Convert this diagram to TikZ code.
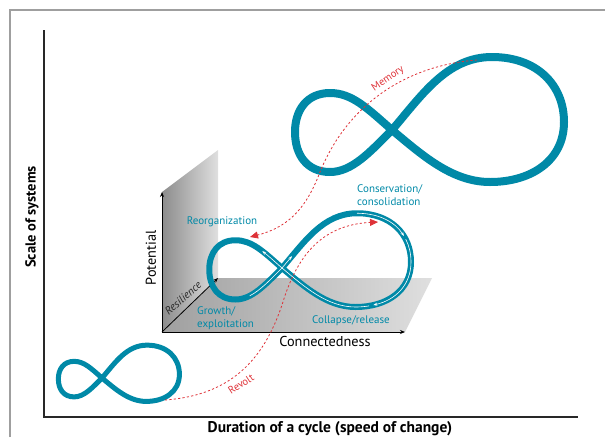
\documentclass[tikz,border=0pt]{standalone}
\usepackage{fontspec}
\setmainfont{PT Sans}
\usetikzlibrary{arrows.meta,decorations.markings}
\definecolor{tealc}{RGB}{0,137,167}
\definecolor{redm}{RGB}{222,50,56}
\definecolor{axisc}{RGB}{40,40,40}
\def\eightpath{(0,0) .. controls (30,-35) and (55,-73) .. (100,-73) .. controls (145,-73) and (172,-45) .. (172,-8) .. controls (172,30) and (140,52) .. (98,52) .. controls (60,52) and (30,25) .. (0,0) .. controls (-25,-22) and (-40,-37) .. (-62,-37) .. controls (-85,-37) and (-97,-20) .. (-97,2) .. controls (-97,25) and (-85,42) .. (-62,42) .. controls (-40,42) and (-22,22) .. cycle}
\begin{document}
\begin{tikzpicture}[x=1pt,y=-1pt,
  frame/.style={draw=gray!75, line width=1.6pt},
  mainaxis/.style={draw=axisc, line width=1.2pt},
  smallaxis/.style={draw=black, line width=0.8pt, -{Stealth[length=5pt,width=4pt]}},
  eightline/.style={draw=tealc, line join=round},
  whitearrow/.style={draw=white, line width=0.6pt, -{Stealth[length=4pt,width=3pt]}},
  redpath/.style={draw=redm, line width=0.8pt, dash pattern=on 2.2pt off 2.2pt, -{Triangle[length=8pt,width=7pt]}},
  tealtext/.style={text=tealc, font=\fontsize{11}{12.5}\selectfont, inner sep=0pt, align=left},
  redtext/.style={text=redm, font=\fontsize{10.5}{12}\selectfont, inner sep=0pt},
  axtitle/.style={text=black, font=\bfseries\fontsize{15.5}{17}\selectfont, inner sep=0pt},
  axlabel/.style={text=black, font=\fontsize{14.3}{16}\selectfont, inner sep=0pt}]
\useasboundingbox (0,0) rectangle (605,437);
% outer frame
\coordinate (f1) at (10,437);
\coordinate (f2) at (10,10);
\coordinate (f3) at (605,10);
\draw[frame] (f1) -- (f2) -- (f3);
% main axes
\coordinate (o) at (44,417);
\coordinate (ytop) at (44,30);
\coordinate (xend) at (578,417);
\draw[mainaxis] (ytop) -- (o) -- (xend);
\node[axtitle, rotate=90, font=\bfseries\fontsize{14.5}{16}\selectfont] (scale) at (32,217) {Scale of systems};
\node[axtitle] (dur) at (330,429) {Duration of a cycle (speed of change)};
% 3D planes
\coordinate (O) at (162,332);
\coordinate (P) at (162,192);
\coordinate (W1) at (218,150);
\coordinate (R) at (218,278);
\coordinate (F1) at (432,278);
\coordinate (C) at (405,332);
\shade[left color=gray!90, right color=gray!25] (P) -- (W1) -- (R) -- (O) -- cycle;
\shade[left color=gray!75, right color=gray!25] (O) -- (R) -- (F1) -- (C) -- cycle;
\draw[smallaxis] (O) -- (P);
\draw[smallaxis] (O) -- (C);
\draw[smallaxis] (O) -- (R);
\node[axlabel, rotate=90] (pot) at (151,258) {Potential};
\node[axlabel] (con) at (325,341) {Connectedness};
\node[text=axisc, font=\itshape\fontsize{11}{12}\selectfont, inner sep=0pt, rotate=41] (res) at (183,298) {Resilience};
% figure eights
\begin{scope}[shift={(392,130)}]
  \draw[eightline, line width=8pt] \eightpath;
\end{scope}
\begin{scope}[shift={(282,268)}, scale=0.75]
  \draw[eightline, line width=6pt] \eightpath;
  \draw[whitearrow] (-43.1,37.1) .. controls (-28.8,29.8) and (-15.4,15.4) .. (0,0) .. controls (4.5,-5.25) and (8.9,-10.6) .. (13.3,-15.8);
  \draw[whitearrow] (100,-73) .. controls (129.25,-73) and (150.9,-61.2) .. (162.5,-42.7);
  \draw[whitearrow] (165,-38.4) .. controls (169.6,-29.4) and (172,-19.1) .. (172,-8) .. controls (172,22.4) and (151.5,42.6) .. (121.8,49.4);
  \draw[whitearrow] (116.2,50.5) .. controls (110.4,51.5) and (104.3,52) .. (98,52) .. controls (60,52) and (30,25) .. (0,0) .. controls (-10,-8.8) and (-18.4,-16.5) .. (-26.3,-22.5);
\end{scope}
\begin{scope}[shift={(102,378)}, scale=0.45]
  \draw[eightline, line width=5pt] \eightpath;
\end{scope}
% labels of phases
\node[tealtext] (reorg) at (222,222) {Reorganization};
\node[tealtext, anchor=west] (conslab) at (357,195) {Conservation/\\consolidation};
\node[tealtext, anchor=west] (grow) at (197,318) {Growth/\\exploitation};
\node[tealtext] (coll) at (351,321) {Collapse/release};
% red dashed arrows
\coordinate (m0) at (477,60);
\coordinate (m1) at (320,172);
\coordinate (m2) at (250,237);
\draw[redpath] (m0) .. controls (400,66) and (345,110) .. (m1) .. controls (305,212) and (285,228) .. (m2);
\coordinate (r0) at (165,400);
\coordinate (r1) at (282,305);
\coordinate (r2) at (378,222);
\draw[redpath] (r0) .. controls (235,395) and (265,355) .. (r1) .. controls (296,258) and (320,225) .. (r2);
\node[redtext, rotate=34] (mem) at (388,79) {Memory};
\node[redtext, rotate=33] (rev) at (241,384) {Revolt};
\end{tikzpicture}
\end{document}
